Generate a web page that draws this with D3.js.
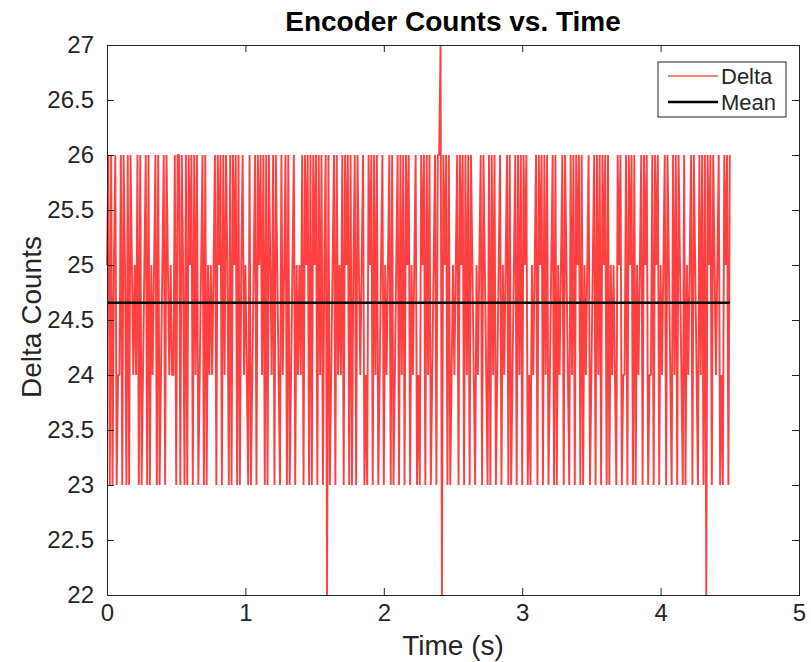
<!DOCTYPE html>
<html>
<head>
<meta charset="utf-8">
<script src="https://cdn.jsdelivr.net/npm/d3@7"></script>
<style>
  body { margin: 0; background: #fff; }
  svg text { font-family: "Liberation Sans", Helvetica, Arial, sans-serif; fill: #262626; }
</style>
</head>
<body>
<div id="chart"></div>
<script>
var svgWidth = 811;
var svgHeight = 662;

var margin = { top: 45, right: 12, bottom: 67, left: 107 };
var chartWidth = svgWidth - margin.left - margin.right;
var chartHeight = svgHeight - margin.top - margin.bottom;

// sample period (s)
var dt = 0.01;

// encoder delta counts, one value per sample
var deltaCounts = [
  25,26,23,26,23,25,26,23,24,24,26,23,26,25,23,26,23,26,25,24,25,24,26,23,26,23,24,25,26,23,
  26,23,25,24,25,26,23,26,23,24,25,26,23,26,25,24,25,24,24,26,23,26,26,23,26,25,23,26,23,26,
  25,26,23,26,24,26,23,24,25,26,23,26,23,25,24,25,24,25,26,23,26,25,26,23,26,24,26,25,23,26,
  23,26,25,26,23,26,23,25,26,24,25,24,23,26,23,24,25,26,23,26,25,26,24,26,23,26,23,26,25,24,
  26,23,26,25,24,23,26,24,25,26,23,26,23,24,25,26,23,25,24,25,24,26,23,26,25,26,23,26,23,26,
  25,26,23,26,24,26,23,25,26,22,26,23,24,25,26,23,26,24,25,24,26,23,26,25,26,23,26,23,25,26,
  23,26,25,24,25,26,23,24,23,26,25,26,23,26,24,26,23,24,25,26,23,25,24,25,26,23,26,23,24,25,
  26,23,26,24,26,23,26,25,26,23,25,24,25,26,23,24,23,26,25,26,23,26,24,26,23,24,25,26,23,26,
  26,27,22,26,25,26,23,26,23,24,25,24,25,26,23,26,25,26,23,26,24,26,23,26,25,24,23,25,24,25,
  26,23,26,25,24,23,26,23,26,24,26,23,24,25,26,23,25,24,25,26,23,26,23,24,25,26,23,26,24,26,
  23,26,25,26,23,24,23,25,24,25,26,23,26,25,26,23,26,24,26,23,24,25,26,23,26,23,25,24,25,26,
  23,26,25,24,23,26,24,26,23,26,25,26,23,26,23,25,24,25,26,23,24,25,26,23,26,24,26,23,26,25,
  26,23,26,23,25,24,25,24,23,26,25,26,23,24,24,26,23,26,25,26,23,26,23,25,24,25,26,23,26,25,
  26,23,24,24,26,23,26,25,26,23,25,24,25,26,23,26,25,24,23,26,24,26,23,26,25,24,23,26,23,25,
  24,25,26,23,26,25,24,23,26,24,26,23,26,22,26,25,26,23,26,25,24,25,26,23,24,23,26,25,26,23,
  26
];

var xTicks = [0, 1, 2, 3, 4, 5];
var yTicks = [22, 22.5, 23, 23.5, 24, 24.5, 25, 25.5, 26, 26.5, 27];
var legendLabels = ["Delta", "Mean"];

var samples = deltaCounts.map(function(v, i) {
  return { time: i * dt, delta: v };
});
var meanDelta = d3.mean(deltaCounts);
var meanData = [
  { time: samples[0].time, delta: meanDelta },
  { time: samples[samples.length - 1].time, delta: meanDelta }
];

var svg = d3.select("#chart")
  .append("svg")
  .attr("width", svgWidth)
  .attr("height", svgHeight);

var chartGroup = svg.append("g")
  .attr("transform", `translate(${margin.left}, ${margin.top})`);

var xLinearScale = d3.scaleLinear().domain([0, 5]).range([0, chartWidth]);
var yLinearScale = d3.scaleLinear().domain([22, 27]).range([chartHeight, 0]);

var tickLen = 7;

var bottomAxis = d3.axisBottom(xLinearScale).tickValues(xTicks)
  .tickSize(-tickLen).tickPadding(9).tickFormat(d => d);
var leftAxis = d3.axisLeft(yLinearScale).tickValues(yTicks)
  .tickSize(-tickLen).tickPadding(13).tickFormat(d => d);
var topAxis = d3.axisTop(xLinearScale).tickValues(xTicks)
  .tickSize(-tickLen).tickFormat("");
var rightAxis = d3.axisRight(yLinearScale).tickValues(yTicks)
  .tickSize(-tickLen).tickFormat("");

// data lines first so axes sit on top
var lineGen = d3.line()
  .x(d => xLinearScale(d.time))
  .y(d => yLinearScale(d.delta));

chartGroup.append("path")
  .datum(samples)
  .attr("fill", "none")
  .attr("stroke", "#ff0000")
  .attr("stroke-opacity", 0.75)
  .attr("stroke-width", 1.9)
  .attr("stroke-linejoin", "bevel")
  .attr("d", lineGen);

chartGroup.append("path")
  .datum(meanData)
  .attr("fill", "none")
  .attr("stroke", "#000")
  .attr("stroke-width", 2.6)
  .attr("d", lineGen);

function styleAxis(g) {
  g.selectAll(".domain").attr("stroke", "#262626").attr("stroke-width", 1);
  g.selectAll(".tick line").attr("stroke", "#262626").attr("stroke-width", 1);
  g.selectAll(".tick text").style("font-size", "24px").attr("fill", "#262626");
}

chartGroup.append("g")
  .attr("transform", `translate(0, ${chartHeight})`)
  .call(bottomAxis).call(styleAxis);

chartGroup.append("g")
  .call(leftAxis).call(styleAxis);

chartGroup.append("g")
  .call(topAxis).call(styleAxis);

chartGroup.append("g")
  .attr("transform", `translate(${chartWidth}, 0)`)
  .call(rightAxis).call(styleAxis);

// title and axis labels
svg.append("text")
  .attr("x", margin.left + chartWidth / 2)
  .attr("y", 31)
  .attr("text-anchor", "middle")
  .style("font-size", "28px")
  .style("font-weight", "bold")
  .style("fill", "#000")
  .text("Encoder Counts vs. Time");

svg.append("text")
  .attr("x", margin.left + chartWidth / 2)
  .attr("y", 655)
  .attr("text-anchor", "middle")
  .style("font-size", "28px")
  .text("Time (s)");

svg.append("text")
  .attr("transform", `translate(41, ${margin.top + chartHeight / 2 - 3}) rotate(-90)`)
  .attr("text-anchor", "middle")
  .style("font-size", "28px")
  .text("Delta Counts");

// legend
var legend = svg.append("g").attr("transform", "translate(658, 62)");

legend.append("rect")
  .attr("width", 128)
  .attr("height", 55)
  .attr("fill", "#fff")
  .attr("stroke", "#262626")
  .attr("stroke-width", 1);

var legendColors = ["#ff0000", "#000"];
var legendWidths = [1, 2.6];

legendLabels.forEach(function(label, i) {
  var ly = 14 + i * 26;
  legend.append("line")
    .attr("x1", 10).attr("x2", 60)
    .attr("y1", ly).attr("y2", ly)
    .attr("stroke", legendColors[i])
    .attr("stroke-width", legendWidths[i]);
  legend.append("text")
    .attr("x", 63)
    .attr("y", ly + 8)
    .style("font-size", "22px")
    .text(label);
});
</script>
</body>
</html>
